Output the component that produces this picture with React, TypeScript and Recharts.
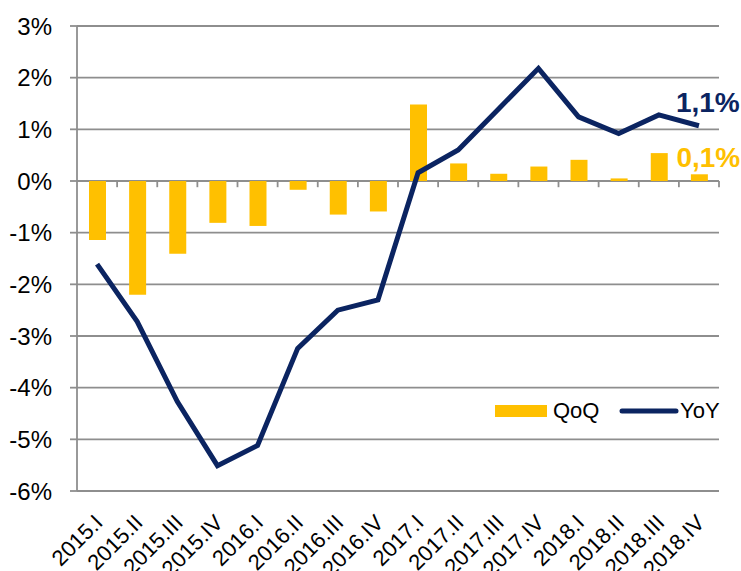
import React from 'react';
import { ComposedChart, Bar, Line, XAxis, YAxis, CartesianGrid, ReferenceLine, LabelList } from 'recharts';

// 분기 라벨
const quarters = [
  '2015.I', '2015.II', '2015.III', '2015.IV',
  '2016.I', '2016.II', '2016.III', '2016.IV',
  '2017.I', '2017.II', '2017.III', '2017.IV',
  '2018.I', '2018.II', '2018.III', '2018.IV',
];

// 전분기 대비 (QoQ, %)
const qoqValues = [-1.14, -2.2, -1.41, -0.81, -0.87, -0.17, -0.65, -0.59, 1.48, 0.34, 0.14, 0.28, 0.41, 0.05, 0.54, 0.13];

// 전년 동기 대비 (YoY, %)
const yoyValues = [-1.61, -2.72, -4.27, -5.51, -5.12, -3.24, -2.5, -2.3, 0.16, 0.6, 1.39, 2.18, 1.24, 0.92, 1.28, 1.07];

const yTicks = [-6, -5, -4, -3, -2, -1, 0, 1, 2, 3];

const GOLD = '#FFC000';
const NAVY = '#0B2461';
const GRID = '#8e8e8e';
const FONT = '"Liberation Sans", Arial, sans-serif';

const data = quarters.map((q, i) => ({ name: q, qoq: qoqValues[i], yoy: yoyValues[i] }));
const lastIndex = quarters.length - 1;

const fmt = (v: number) => v.toFixed(1).replace('.', ',') + '%';

// 45도 회전한 x축 라벨
function XTick({ x, y, payload }: any) {
  const ax = x + 7;
  const ay = y + 25;
  return (
    <text x={ax} y={ay} textAnchor="end" fontSize={22} fontFamily={FONT} fill="#000"
      transform={`rotate(-45, ${ax}, ${ay})`}>
      {payload.value}
    </text>
  );
}

// 범례 (차트 안쪽 오른쪽 아래)
function LegendBox() {
  return (
    <svg width={240} height={26} style={{ position: 'absolute', left: 495, top: 398 }}>
      <rect x={0} y={7} width={52} height={12} fill={GOLD} />
      <text x={58} y={20} fontSize={22} fontFamily={FONT} fill="#000">QoQ</text>
      <line x1={127} y1={13} x2={181} y2={13} stroke={NAVY} strokeWidth={5} strokeLinecap="round" />
      <text x={185} y={20} fontSize={22} fontFamily={FONT} fill="#000">YoY</text>
    </svg>
  );
}

export default function App() {
  return (
    <div style={{ width: 741, height: 571, position: 'absolute', left: 0, top: 0, background: '#fff', overflow: 'hidden' }}>
      <ComposedChart width={741} height={571} data={data}
        margin={{ top: 26, right: 22, left: 0, bottom: 0 }}>
        <CartesianGrid vertical={false} stroke={GRID} strokeWidth={1.8} />
        <XAxis dataKey="name" height={80} axisLine={false} tickLine={false} interval={0} tick={<XTick />} />
        <YAxis width={77} domain={[-6, 3]} ticks={yTicks} interval={0}
          tickFormatter={(v: number) => v + '%'}
          axisLine={{ stroke: GRID, strokeWidth: 1.8 }}
          tickLine={{ stroke: GRID, strokeWidth: 1.8 }} tickSize={7} tickMargin={18}
          tick={{ fontSize: 24, fontFamily: FONT, fill: '#000' }} />
        {quarters.map((q) => (
          <ReferenceLine key={q} position="end" stroke={GRID} strokeWidth={1.8}
            segment={[{ x: q, y: 0 }, { x: q, y: -0.12 }]} />
        ))}
        <Bar dataKey="qoq" name="QoQ" fill={GOLD} barSize={17} isAnimationActive={false}>
          <LabelList dataKey="qoq" content={(p: any) =>
            p.index === lastIndex ? (
              <text x={p.x + p.width / 2 - 23} y={p.y - 7} fontSize={28} fontWeight="bold"
                fontFamily={FONT} fill={GOLD}>{fmt(p.value)}</text>
            ) : null} />
        </Bar>
        <Line dataKey="yoy" name="YoY" stroke={NAVY} strokeWidth={5} dot={false}
          strokeLinejoin="miter" isAnimationActive={false}>
          <LabelList dataKey="yoy" content={(p: any) =>
            p.index === lastIndex ? (
              <text x={p.x - 23} y={p.y - 14} fontSize={28} fontWeight="bold"
                fontFamily={FONT} fill={NAVY}>{fmt(p.value)}</text>
            ) : null} />
        </Line>
      </ComposedChart>
      <LegendBox />
    </div>
  );
}
